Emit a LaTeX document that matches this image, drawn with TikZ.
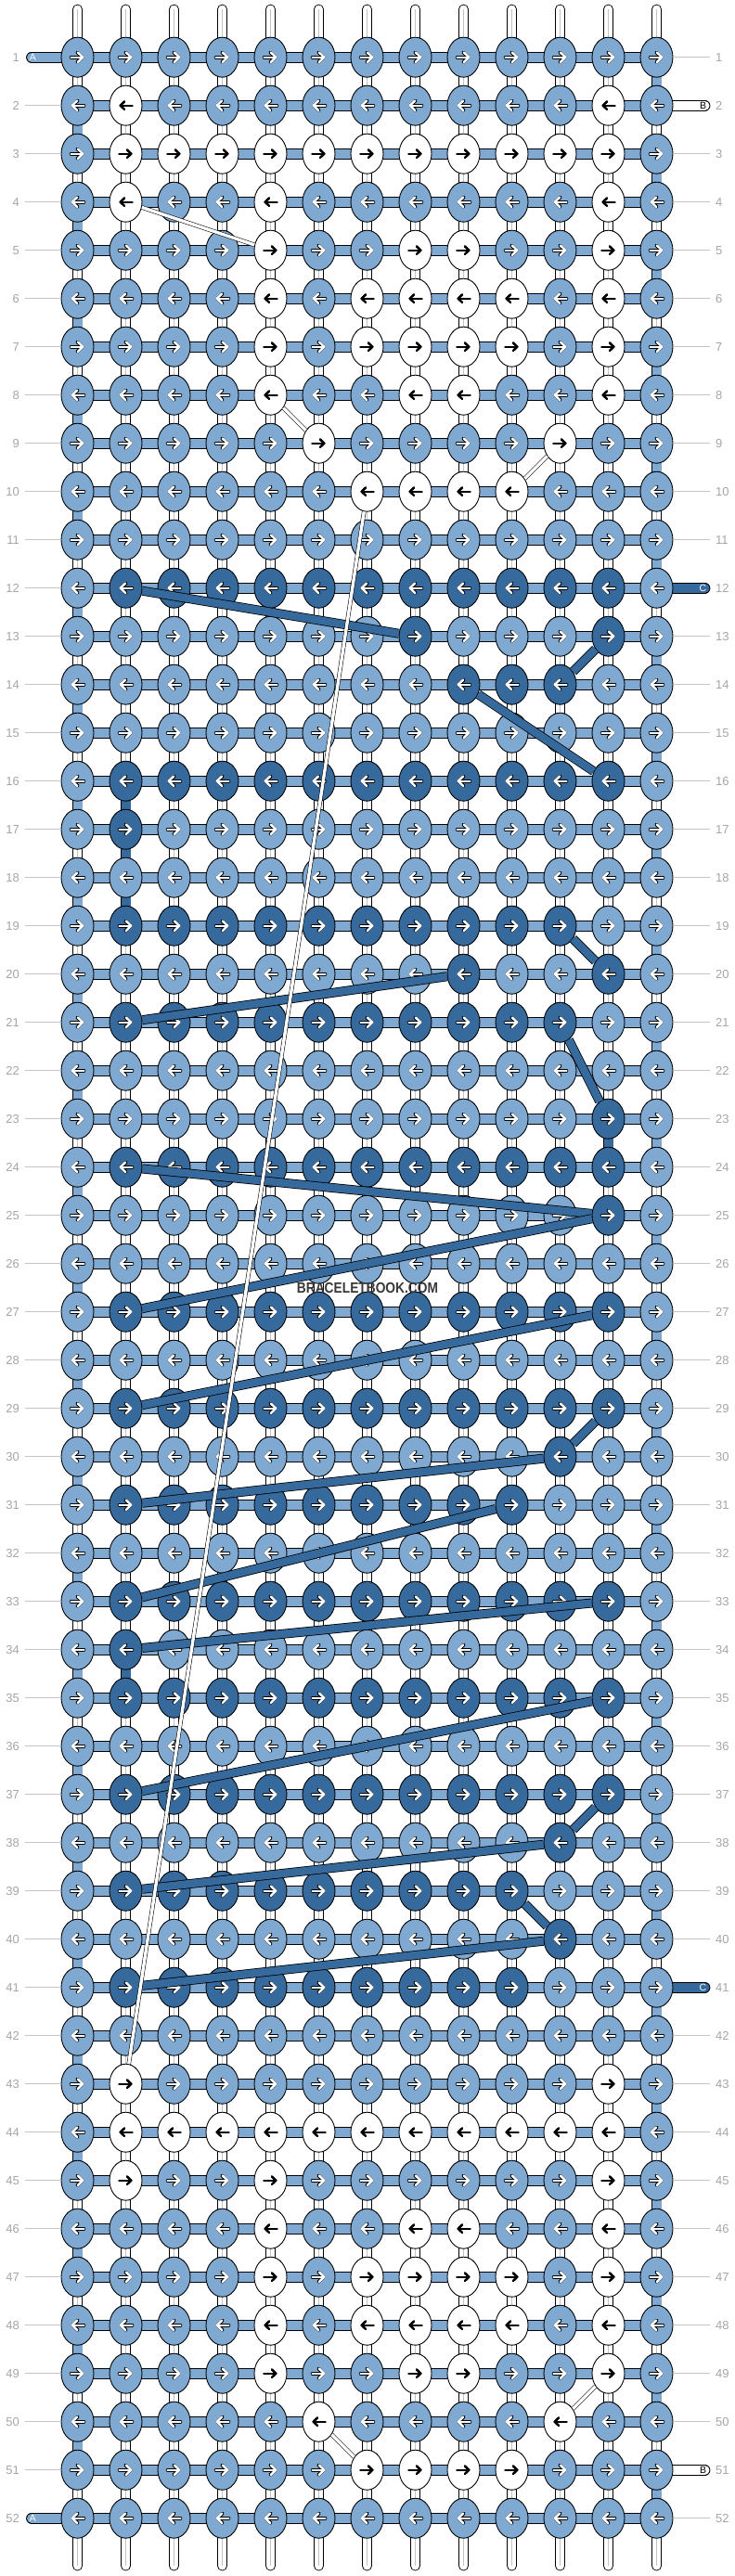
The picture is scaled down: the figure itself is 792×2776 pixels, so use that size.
\documentclass[tikz,border=0pt]{standalone}
\usepackage{fontspec}
\usepackage{graphicx}
\setmainfont{Liberation Sans}
\usetikzlibrary{shapes.geometric,arrows.meta,backgrounds,calc}

\definecolor{lightknot}{RGB}{128,169,209}
\definecolor{darkknot}{RGB}{54,106,157}
\definecolor{numgray}{RGB}{165,165,165}
\definecolor{guidegray}{RGB}{195,195,195}

\tikzset{
  knot/.style={ellipse, draw=black, line width=0.9pt, minimum width=35pt,
    minimum height=43pt, inner sep=0pt},
  knotL/.style={knot, fill=lightknot},
  knotW/.style={knot, fill=white},
  knotD/.style={knot, fill=darkknot},
  tip/.style={line cap=round, -{Straight Barb[length=4.5pt,width=8.5pt,round]}},
  bigtip/.style={line cap=round, -{Straight Barb[length=5.5pt,width=10.5pt,round]}},
  tipunderL/.style={bigtip, black, line width=3.6pt},
  tipunderD/.style={tipunderL},
  tipunderW/.style={tip, black, line width=2.2pt},
  tipoverL/.style={bigtip, white, line width=2.4pt},
  tipoverD/.style={tipoverL},
  tipoverW/.style={tipunderW},
  band/.style={draw=black, line width=0.9pt, double=#1, double distance=10pt},
  strand/.style={band=white, double distance=9pt, line cap=round},
  strandmid/.style={guidegray, line width=0.8pt},
  cline/.style={draw=black, line width=0.8pt, double=darkknot, double distance=8.4pt},
  bline/.style={draw=black, line width=0.55pt, double=white, double distance=3.4pt},
  rowlabel/.style={text=numgray, inner sep=0pt, font=\fontsize{13}{13}\selectfont},
  rowline/.style={guidegray, line width=0.9pt},
  pilltext/.style={inner sep=0pt, font=\fontsize{10.5}{10.5}\selectfont}
}

\begin{document}
\begin{tikzpicture}[x=1pt,y=-1pt]
  \useasboundingbox (0,0) rectangle (792,2776);

  \foreach \r/\row in {
    1/{L,L,L,L,L,L,L,L,L,L,L,L,L},
    2/{L,W,L,L,L,L,L,L,L,L,L,W,L},
    3/{L,W,W,W,W,W,W,W,W,W,W,W,L},
    4/{L,W,L,L,W,L,L,L,L,L,L,W,L},
    5/{L,L,L,L,W,L,L,W,W,L,L,W,L},
    6/{L,L,L,L,W,L,W,W,W,W,L,W,L},
    7/{L,L,L,L,W,L,W,W,W,W,L,W,L},
    8/{L,L,L,L,W,L,L,W,W,L,L,W,L},
    9/{L,L,L,L,L,W,L,L,L,L,W,L,L},
    10/{L,L,L,L,L,L,W,W,W,W,L,L,L},
    11/{L,L,L,L,L,L,L,L,L,L,L,L,L},
    12/{L,D,D,D,D,D,D,D,D,D,D,D,L},
    13/{L,L,L,L,L,L,L,D,L,L,L,D,L},
    14/{L,L,L,L,L,L,L,L,D,D,D,L,L},
    15/{L,L,L,L,L,L,L,L,L,L,L,L,L},
    16/{L,D,D,D,D,D,D,D,D,D,D,D,L},
    17/{L,D,L,L,L,L,L,L,L,L,L,L,L},
    18/{L,L,L,L,L,L,L,L,L,L,L,L,L},
    19/{L,D,D,D,D,D,D,D,D,D,D,L,L},
    20/{L,L,L,L,L,L,L,L,D,L,L,D,L},
    21/{L,D,D,D,D,D,D,D,D,D,D,L,L},
    22/{L,L,L,L,L,L,L,L,L,L,L,L,L},
    23/{L,L,L,L,L,L,L,L,L,L,L,D,L},
    24/{L,D,D,D,D,D,D,D,D,D,D,D,L},
    25/{L,L,L,L,L,L,L,L,L,L,L,D,L},
    26/{L,L,L,L,L,L,L,L,L,L,L,L,L},
    27/{L,D,D,D,D,D,D,D,D,D,D,D,L},
    28/{L,L,L,L,L,L,L,L,L,L,L,L,L},
    29/{L,D,D,D,D,D,D,D,D,D,D,D,L},
    30/{L,L,L,L,L,L,L,L,L,L,D,L,L},
    31/{L,D,D,D,D,D,D,D,D,D,L,L,L},
    32/{L,L,L,L,L,L,L,L,L,L,L,L,L},
    33/{L,D,D,D,D,D,D,D,D,D,D,D,L},
    34/{L,D,L,L,L,L,L,L,L,L,L,L,L},
    35/{L,D,D,D,D,D,D,D,D,D,D,D,L},
    36/{L,L,L,L,L,L,L,L,L,L,L,L,L},
    37/{L,D,D,D,D,D,D,D,D,D,D,D,L},
    38/{L,L,L,L,L,L,L,L,L,L,D,L,L},
    39/{L,D,D,D,D,D,D,D,D,D,L,L,L},
    40/{L,L,L,L,L,L,L,L,L,L,D,L,L},
    41/{L,D,D,D,D,D,D,D,D,D,L,L,L},
    42/{L,L,L,L,L,L,L,L,L,L,L,L,L},
    43/{L,W,L,L,L,L,L,L,L,L,L,W,L},
    44/{L,W,W,W,W,W,W,W,W,W,W,W,L},
    45/{L,W,L,L,W,L,L,L,L,L,L,W,L},
    46/{L,L,L,L,W,L,L,W,W,L,L,W,L},
    47/{L,L,L,L,W,L,W,W,W,W,L,W,L},
    48/{L,L,L,L,W,L,W,W,W,W,L,W,L},
    49/{L,L,L,L,W,L,L,W,W,L,L,W,L},
    50/{L,L,L,L,L,W,L,L,L,L,W,L,L},
    51/{L,L,L,L,L,L,W,W,W,W,L,L,L},
    52/{L,L,L,L,L,L,L,L,L,L,L,L,L}}{
    \pgfmathsetmacro\tailx{-7*(2*mod(\r,2)-1)}
    \pgfmathsetmacro\headx{7*(2*mod(\r,2)-1)}
    \foreach \k [count=\c] in \row {
      \node[knot\k] (k\r-\c) at ({83.5+52*(\c-1)},{61.7+52*(\r-1)}) {};
      \draw[tipunder\k] ($(k\r-\c)+(\tailx,0)$) -- ($(k\r-\c)+(\headx,0)$);
      \draw[tipover\k] ($(k\r-\c)+(\tailx,0)$) -- ($(k\r-\c)+(\headx,0)$);
    }
  }

  \begin{pgfonlayer}{background}
    \foreach \c in {1,...,13} {
      \coordinate (top\c) at ({83.5+52*(\c-1)},10);
      \coordinate (bot\c) at ({83.5+52*(\c-1)},2765);
      \draw[strand] (top\c) -- (bot\c);
      \draw[strandmid] (top\c) -- (bot\c);
    }
    \foreach \r [evaluate=\r as \s using int(\r+1)] in {2,4,...,50}
      \draw[band=lightknot] (k\r-1.center) -- (k\s-1.center);
    \foreach \r [evaluate=\r as \s using int(\r+1)] in {1,3,...,51}
      \draw[band=lightknot] (k\r-13.center) -- (k\s-13.center);
    \foreach \a/\b in {16-2/17-2,17-2/18-2,18-2/19-2,23-12/24-12,34-2/35-2}
      \draw[band=darkknot] (k\a.center) -- (k\b.center);
    \foreach \r in {1,...,52}
      \draw[band=lightknot] (k\r-1.center) -- (k\r-13.center);
    \foreach \r in {1,52} {
      \coordinate (endA\r) at (34,{61.7+52*(\r-1)});
      \draw[band=lightknot, line cap=round] (endA\r) -- (k\r-1.center);
    }
    \foreach \r/\col in {2/white,51/white,12/darkknot,41/darkknot} {
      \coordinate (endR\r) at (759.5,{61.7+52*(\r-1)});
      \draw[band=\col, line cap=round] (k\r-13.center) -- (endR\r);
    }
  \end{pgfonlayer}

  \foreach \r in {1,52}
    \node[pilltext, text=white] (letA\r) at (35.5,{61.7+52*(\r-1)}) {A};
  \foreach \r/\txt/\col in {2/B/black,51/B/black,12/C/white,41/C/white}
    \node[pilltext, text=\col] (let\r) at (757.5,{61.7+52*(\r-1)}) {\txt};

  \foreach \r in {1,...,52} {
    \node[rowlabel, anchor=east] (lnum\r) at (21,{61.7+52*(\r-1)}) {\r};
    \node[rowlabel, anchor=west] (rnum\r) at (771,{61.7+52*(\r-1)}) {\r};
  }
  \foreach \r in {2,...,51} {
    \coordinate (lgd\r) at (27,{61.7+52*(\r-1)});
    \draw[rowline] (lgd\r) -- (k\r-1);
  }
  \foreach \r in {1,3,4,...,11,13,14,...,40,42,43,...,50,52} {
    \coordinate (rgd\r) at (765,{61.7+52*(\r-1)});
    \draw[rowline] (k\r-13) -- (rgd\r);
  }

  \foreach \a/\b in {12-2/13-8,13-12/14-11,14-9/16-12,19-11/20-12,20-9/21-2,
      21-11/23-12,24-2/25-12,25-12/27-2,27-12/29-2,29-12/30-11,30-11/31-2,
      31-10/33-2,33-12/34-2,35-12/37-2,37-12/38-11,38-11/39-2,39-10/40-11,
      40-11/41-2}
    \draw[cline] (k\a) -- (k\b);

  \foreach \a/\b in {4-2/5-5,8-5/9-6,9-11/10-10,10-7/43-2,49-12/50-11,50-6/51-7}
    \draw[bline] (k\a) -- (k\b);

  \node[font=\bfseries\fontsize{16}{16}\selectfont, text=black!78, inner sep=0pt]
    (brand) at (396,1388) {\scalebox{0.86}[1]{BRACELETBOOK.COM}};
\end{tikzpicture}
\end{document}
